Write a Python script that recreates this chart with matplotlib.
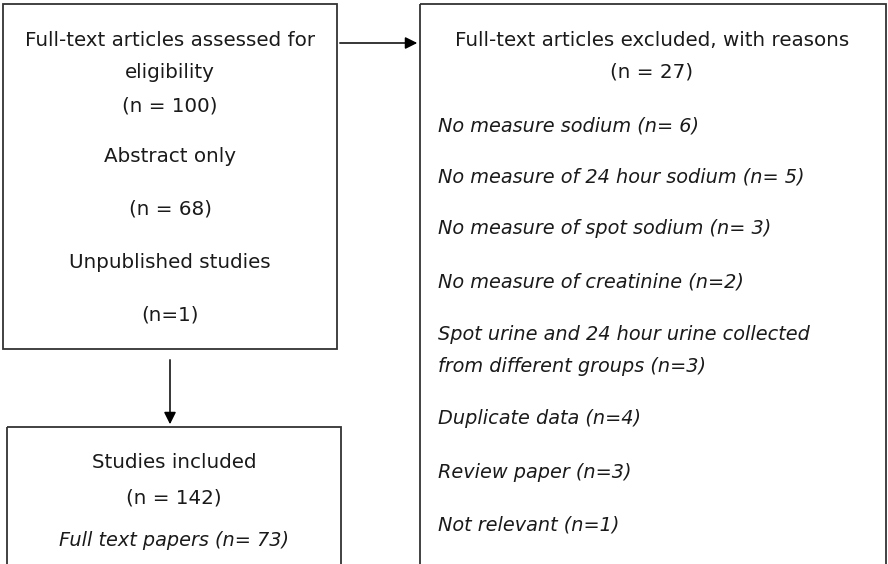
import matplotlib.pyplot as plt
from matplotlib.patches import Rectangle

# box texts
assessed_lines = ["Full-text articles assessed for", "eligibility", "(n = 100)",
                  "Abstract only", "(n = 68)", "Unpublished studies", "(n=1)"]
excluded_title = ["Full-text articles excluded, with reasons", "(n = 27)"]
excluded_reasons = ["No measure sodium (n= 6)",
                    "No measure of 24 hour sodium (n= 5)",
                    "No measure of spot sodium (n= 3)",
                    "No measure of creatinine (n=2)",
                    "Spot urine and 24 hour urine collected",
                    "from different groups (n=3)",
                    "Duplicate data (n=4)",
                    "Review paper (n=3)",
                    "Not relevant (n=1)"]
included_lines = ["Studies included", "(n = 142)"]
included_italic = ["Full text papers (n= 73)"]

# layout (pixel units, y down)
W, H = 888, 564
assessed_y = [40, 72, 106, 157, 209, 263, 315]
title_y = [40, 72]
reasons_y = [126, 177, 229, 282, 335, 367, 418, 473, 525]
included_y = [463, 498]
included_italic_y = [540]

plt.rcParams['font.family'] = ['DejaVu Sans']
fs = 14.3
fs_it = 13.9
txt_color = '#1a1a1a'
edge = '#333333'

fig = plt.figure(figsize=(W / 100, H / 100), dpi=100)
ax = fig.add_axes([0, 0, 1, 1])
ax.set_xlim(0, W)
ax.set_ylim(H, 0)
ax.axis('off')

# boxes
ax.add_patch(Rectangle((3, 4), 334, 345, fill=False, ec=edge, lw=1.3))
ax.add_patch(Rectangle((420, 4), 466, 575, fill=False, ec=edge, lw=1.3, clip_on=True))
ax.add_patch(Rectangle((7, 427), 334, 160, fill=False, ec=edge, lw=1.3, clip_on=True))

# arrows
arr = dict(arrowstyle='-|>', color='black', lw=1.1, mutation_scale=18)
ax.annotate('', xy=(420, 43), xytext=(337, 43), arrowprops=arr)
ax.annotate('', xy=(170, 427), xytext=(170, 357), arrowprops=arr)

for s, y in zip(assessed_lines, assessed_y):
    ax.text(170, y, s, ha='center', va='center', fontsize=fs, color=txt_color)
for s, y in zip(excluded_title, title_y):
    ax.text(652, y, s, ha='center', va='center', fontsize=fs, color=txt_color)
for s, y in zip(excluded_reasons, reasons_y):
    ax.text(438, y, s, ha='left', va='center', fontsize=fs_it, color=txt_color, style='italic')
for s, y in zip(included_lines, included_y):
    ax.text(174, y, s, ha='center', va='center', fontsize=fs, color=txt_color)
for s, y in zip(included_italic, included_italic_y):
    ax.text(174, y, s, ha='center', va='center', fontsize=fs_it, color=txt_color, style='italic')

fig.savefig('out.png', dpi=100)
